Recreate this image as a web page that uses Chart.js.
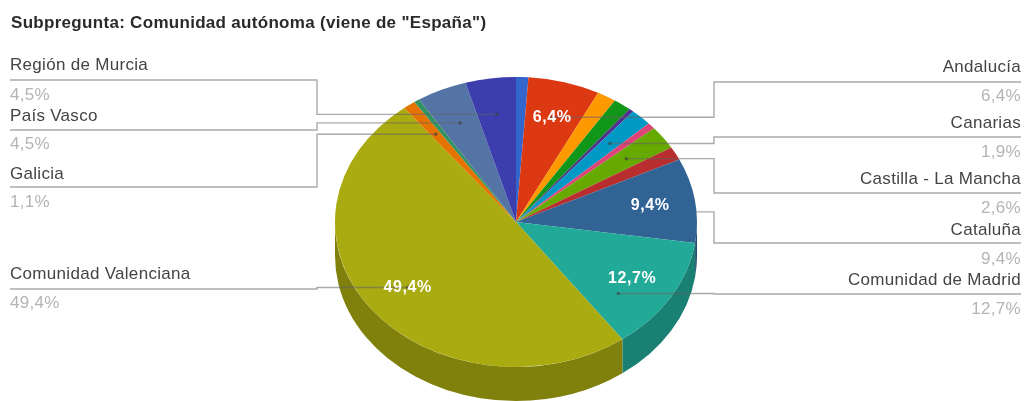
<!DOCTYPE html>
<html><head><meta charset="utf-8">
<style>html,body{margin:0;padding:0;background:#fff;overflow:hidden}#w{width:1025px;height:401px;position:relative}</style>
<script src="https://cdn.jsdelivr.net/npm/chart.js@4"></script>
</head><body><div id="w"><canvas id="c" width="1025" height="401"></canvas></div>
<script>
const titleText = 'Subpregunta: Comunidad autónoma (viene de "España")';
const categories = ['(sin rótulo 1)','Andalucía','(sin rótulo 2)','(sin rótulo 3)','(sin rótulo 4)','Canarias','(sin rótulo 5)','Castilla - La Mancha','(sin rótulo 6)','Cataluña','Comunidad de Madrid','Comunidad Valenciana','Galicia','(sin rótulo 7)','País Vasco','Región de Murcia'];
const values = [1.1,6.4,1.7,1.6,0.4,1.9,0.7,2.6,1.5,9.4,12.7,49.4,1.1,0.5,4.5,4.5];
const colors = ['#3366cc','#dc3912','#ff9900','#109618','#50308f','#0099c6','#dd4477','#66aa00','#b82e2e','#316395','#22aa99','#aaaa11','#e67300','#329262','#5574a6','#3b3eac'];
const sideColors = ['#264c99','#a52b0e','#bf7300','#0c7112','#3c246b','#007394','#a63359','#4d8000','#8a2222','#254a70','#198073','#80800d','#ad5600','#256e4a','#40577d','#2c2f81'];
const insideLabels = ['Andalucía','Cataluña','Comunidad de Madrid','Comunidad Valenciana'];
const leaderStopsAtEdge = ['Cataluña'];

const X_STRETCH = 181/145, DEPTH = 34, ANCHOR = 0.75;
// label layout: category, side, text baseline, value baseline, underline y, elbow-end angle shift (deg)
const callouts = [
 ['Región de Murcia','l',70,100,80,0],['País Vasco','l',121,149,130,0],['Galicia','l',179,207,187,0],['Comunidad Valenciana','l',279,308,289,0],
 ['Andalucía','r',72,101,82,0],['Canarias','r',128,157,137,0],['Castilla - La Mancha','r',184,213,193,0],['Cataluña','r',235,264,243,3.3],['Comunidad de Madrid','r',285,314,294,10]
];
const fmt = v => v.toFixed(1).replace('.',',')+'%';

const pie3d = {
 id:'pie3d',
 beforeDraw(chart){ chart.ctx.letterSpacing='0.3px'; },
 beforeDatasetsDraw(chart){
  const ctx=chart.ctx, arcs=chart.getDatasetMeta(0).data, a0=arcs[0];
  ctx.letterSpacing='0px';
  ctx.save();
  ctx.translate(a0.x,a0.y); ctx.scale(X_STRETCH,1); ctx.translate(-a0.x,-a0.y);
  arcs.forEach((a,i)=>{
   const s=Math.max(a.startAngle,0), e=Math.min(a.endAngle,Math.PI);
   if(e<=s) return;
   ctx.fillStyle=sideColors[i];
   ctx.beginPath();
   ctx.arc(a.x,a.y,a.outerRadius,s,e);
   ctx.arc(a.x,a.y+DEPTH,a.outerRadius,e,s,true);
   ctx.closePath(); ctx.fill();
  });
 },
 afterDatasetsDraw(chart){
  const ctx=chart.ctx; ctx.restore();
  const arcs=chart.getDatasetMeta(0).data;
  const pos=(i,shift)=>{const a=arcs[i],m=(a.startAngle+a.endAngle)/2+shift*Math.PI/180,r=a.outerRadius*ANCHOR;
    return [a.x+r*X_STRETCH*Math.cos(m),a.y+r*Math.sin(m)];};
  ctx.save();
  callouts.forEach(([name,side,,,uy,shift])=>{
   const i=categories.indexOf(name);
   let [px,py]=pos(i,shift);
   const atEdge=leaderStopsAtEdge.includes(name);
   if(atEdge){const a=arcs[i],dy=py-a.y; px=a.x+X_STRETCH*Math.sqrt(a.outerRadius*a.outerRadius-dy*dy);}
   const ex=side==='l'?317:714, end=side==='l'?10:1021;
   ctx.strokeStyle='rgba(100,100,100,0.55)'; ctx.lineWidth=1.4;
   ctx.beginPath(); ctx.moveTo(px,py); ctx.lineTo(ex,py); ctx.lineTo(ex,uy); ctx.lineTo(end,uy); ctx.stroke();
   if(!atEdge){ctx.fillStyle='rgba(60,60,60,0.6)'; ctx.beginPath(); ctx.arc(px,py,1.8,0,Math.PI*2); ctx.fill();}
  });
  ctx.font='bold 16px "Liberation Sans"'; ctx.fillStyle='#fff'; ctx.textAlign='center'; ctx.textBaseline='middle'; ctx.letterSpacing='0.6px';
  insideLabels.forEach(n=>{const i=categories.indexOf(n),[x,y]=pos(i,0); ctx.fillText(fmt(values[i]),x,y);});
  ctx.textBaseline='alphabetic'; ctx.letterSpacing='0.3px';
  callouts.forEach(([name,side,ty,vy])=>{
   const v=values[categories.indexOf(name)];
   ctx.textAlign=side==='l'?'left':'right';
   const x=side==='l'?10:1021;
   ctx.font='17px "Liberation Sans"';
   ctx.fillStyle='#444'; ctx.fillText(name,x,ty);
   ctx.fillStyle='#b4b4b4'; ctx.fillText(fmt(v),x,vy);
  });
  ctx.restore();
 }
};

new Chart(document.getElementById('c'),{
 type:'pie',
 data:{labels:categories,datasets:[{data:values,backgroundColor:colors,borderWidth:0,hoverOffset:0}]},
 plugins:[pie3d],
 options:{
  responsive:false,animation:false,
  layout:{padding:{left:11,right:4,top:0,bottom:34}},
  plugins:{
   legend:{display:false},tooltip:{enabled:false},
   title:{display:true,text:titleText,align:'start',color:'#2a2a2a',font:{family:'"Liberation Sans"',size:17,weight:'bold',lineHeight:1.2},padding:{top:13,bottom:43.6}}
  }
 }
});
</script></body></html>
